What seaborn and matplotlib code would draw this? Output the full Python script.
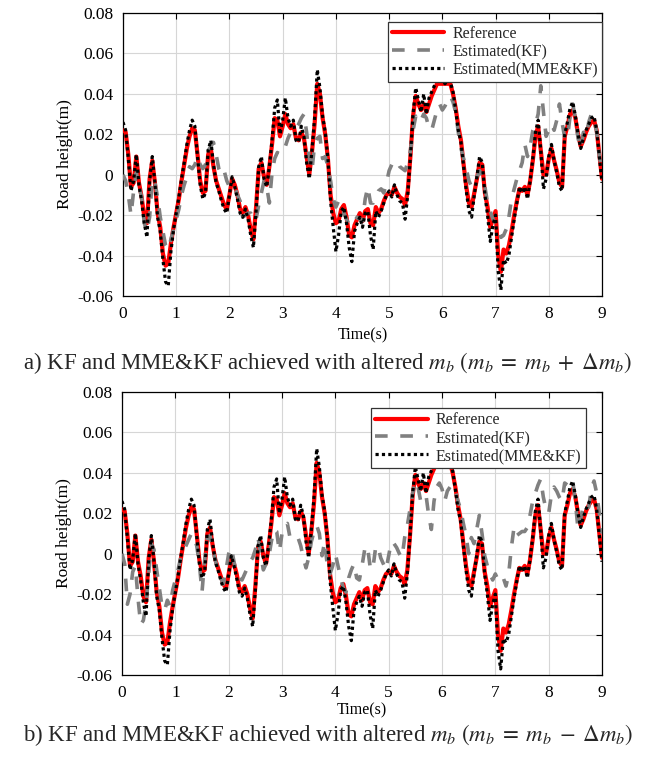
import numpy as np
import pandas as pd
import matplotlib
matplotlib.use("Agg")
import matplotlib.pyplot as plt
import seaborn as sns

time_s = np.round(np.arange(181) * 0.05, 2)

reference = [
    0.022, 0.021, 0.010, -0.006, -0.004, 0.009, -0.004, -0.011, -0.021, -0.024,
    -0.002, 0.007, -0.004, -0.019, -0.026, -0.039, -0.045, -0.044, -0.034, -0.026,
    -0.019, -0.012, -0.003, 0.005, 0.013, 0.019, 0.023, 0.022, 0.010, -0.003,
    -0.009, -0.008, 0.010, 0.013, 0.004, -0.003, -0.007, -0.011, -0.015, -0.017,
    -0.010, -0.002, -0.005, -0.010, -0.017, -0.019, -0.016, -0.020, -0.027, -0.032,
    -0.016, 0.003, 0.006, -0.001, -0.005, 0.004, 0.015, 0.028, 0.027, 0.019,
    0.024, 0.030, 0.025, 0.023, 0.025, 0.018, 0.017, 0.021, 0.018, 0.009,
    0.000, 0.011, 0.025, 0.045, 0.040, 0.028, 0.020, 0.008, -0.010, -0.019,
    -0.024, -0.023, -0.017, -0.015, -0.021, -0.030, -0.031, -0.025, -0.022, -0.019,
    -0.023, -0.018, -0.017, -0.024, -0.025, -0.016, -0.019, -0.017, -0.013, -0.010,
    -0.009, -0.010, -0.006, -0.009, -0.011, -0.012, -0.015, -0.008, 0.009, 0.029,
    0.039, 0.035, 0.032, 0.035, 0.031, 0.035, 0.039, 0.042, 0.045, 0.045,
    0.045, 0.045, 0.045, 0.045, 0.040, 0.033, 0.024, 0.017, 0.005, -0.006,
    -0.014, -0.016, -0.009, -0.002, 0.006, 0.005, -0.009, -0.016, -0.026, -0.022,
    -0.018, -0.040, -0.048, -0.037, -0.039, -0.035, -0.028, -0.020, -0.013, -0.007,
    -0.008, -0.006, -0.010, -0.003, 0.007, 0.019, 0.024, 0.012, 0.000, 0.000,
    0.008, 0.013, 0.007, 0.002, -0.004, -0.006, 0.019, 0.024, 0.030, 0.032,
    0.028, 0.020, 0.014, 0.017, 0.021, 0.024, 0.026, 0.027, 0.022, 0.010,
    -0.002,
]

kf_plus = [
    0.000, -0.003, -0.010, -0.020, -0.008, 0.001, -0.006, -0.011, -0.024, -0.028,
    -0.021, -0.002, -0.004, -0.011, -0.021, -0.028, -0.035, -0.037, -0.032, -0.027,
    -0.022, -0.017, -0.010, -0.005, -0.001, 0.004, 0.003, 0.005, 0.009, 0.005,
    0.003, 0.005, 0.012, 0.014, 0.016, 0.010, 0.003, 0.000, 0.002, -0.003,
    -0.006, -0.005, -0.006, -0.010, -0.013, -0.021, -0.020, -0.019, -0.019, -0.023,
    -0.022, -0.015, -0.009, -0.003, -0.006, -0.014, 0.001, 0.008, 0.011, 0.010,
    0.011, 0.014, 0.018, 0.021, 0.021, 0.023, 0.025, 0.028, 0.030, 0.021,
    0.008, 0.002, 0.015, 0.018, 0.019, 0.008, 0.009, 0.004, -0.003, -0.012,
    -0.016, -0.013, -0.014, -0.019, -0.022, -0.025, -0.025, -0.023, -0.021, -0.022,
    -0.023, -0.012, -0.006, -0.014, -0.014, -0.011, -0.008, -0.007, -0.009, -0.004,
    0.002, 0.005, 0.006, 0.007, 0.004, 0.003, 0.002, 0.006, 0.012, 0.022,
    0.029, 0.026, 0.027, 0.030, 0.028, 0.023, 0.022, 0.027, 0.032, 0.035,
    0.032, 0.034, 0.037, 0.039, 0.036, 0.031, 0.021, 0.013, 0.008, 0.003,
    -0.003, -0.006, -0.003, -0.001, 0.002, -0.001, -0.006, -0.014, -0.018, -0.022,
    -0.024, -0.026, -0.031, -0.030, -0.027, -0.021, -0.012, -0.007, -0.002, 0.002,
    0.006, 0.015, 0.009, 0.014, 0.022, 0.025, 0.030, 0.044, 0.031, 0.019,
    0.022, 0.025, 0.022, 0.027, 0.035, 0.026, 0.018, 0.018, 0.029, 0.035,
    0.028, 0.018, 0.013, 0.021, 0.019, 0.026, 0.030, 0.028, 0.021, 0.009,
    0.002,
]

kf_minus = [
    0.000, -0.005, -0.025, -0.020, -0.009, -0.006, -0.022, -0.035, -0.033, -0.025,
    -0.010, 0.005, 0.002, -0.008, -0.017, -0.026, -0.028, -0.023, -0.026, -0.018,
    -0.013, -0.008, -0.002, 0.001, 0.004, 0.007, 0.010, 0.008, 0.004, -0.005,
    -0.019, -0.003, 0.008, 0.009, 0.002, -0.003, -0.009, -0.012, -0.015, -0.008,
    0.000, 0.003, -0.004, -0.010, -0.012, -0.013, -0.010, -0.007, -0.004, -0.002,
    0.002, 0.008, 0.000, -0.008, -0.005, -0.002, 0.006, 0.012, 0.011, 0.001,
    0.010, 0.014, 0.015, 0.008, 0.007, 0.007, 0.008, 0.004, -0.002, -0.007,
    -0.002, 0.006, 0.011, 0.014, 0.010, -0.001, 0.006, -0.006, -0.010, -0.006,
    0.000, -0.006, -0.012, -0.017, -0.019, -0.012, -0.008, -0.005, -0.012, -0.013,
    -0.006, 0.002, 0.004, -0.006, -0.008, 0.002, 0.004, -0.002, -0.005, -0.008,
    -0.001, 0.006, 0.005, 0.003, 0.000, -0.002, 0.008, 0.014, 0.022, 0.030,
    0.036, 0.033, 0.026, 0.028, 0.029, 0.019, 0.012, 0.026, 0.033, 0.035,
    0.032, 0.026, 0.031, 0.033, 0.034, 0.031, 0.026, 0.022, 0.015, 0.009,
    0.000, 0.008, 0.005, 0.012, 0.019, 0.010, -0.001, -0.006, -0.010, -0.013,
    -0.010, -0.013, -0.011, -0.012, -0.016, -0.010, 0.003, 0.013, 0.009, 0.010,
    0.011, 0.011, 0.013, 0.019, 0.026, 0.030, 0.034, 0.037, 0.028, 0.022,
    0.020, 0.029, 0.033, 0.031, 0.028, 0.026, 0.035, 0.034, 0.036, 0.036,
    0.026, 0.012, 0.017, 0.024, 0.025, 0.023, 0.032, 0.036, 0.030, 0.020,
    0.010,
]

mme_kf = [
    0.026, 0.022, 0.008, -0.008, -0.003, 0.010, -0.005, -0.013, -0.024, -0.031,
    -0.003, 0.009, -0.004, -0.021, -0.028, -0.042, -0.053, -0.055, -0.038, -0.027,
    -0.019, -0.011, -0.002, 0.006, 0.015, 0.022, 0.027, 0.024, 0.009, -0.005,
    -0.012, -0.009, 0.012, 0.017, 0.005, -0.004, -0.008, -0.013, -0.017, -0.019,
    -0.010, -0.001, -0.006, -0.012, -0.019, -0.021, -0.017, -0.022, -0.030, -0.036,
    -0.018, 0.004, 0.009, -0.002, -0.006, 0.004, 0.017, 0.033, 0.037, 0.020,
    0.027, 0.038, 0.028, 0.024, 0.027, 0.017, 0.016, 0.024, 0.019, 0.006,
    -0.002, 0.012, 0.028, 0.052, 0.043, 0.029, 0.021, 0.008, -0.013, -0.026,
    -0.038, -0.030, -0.018, -0.016, -0.024, -0.036, -0.043, -0.028, -0.024, -0.021,
    -0.026, -0.019, -0.018, -0.030, -0.037, -0.018, -0.021, -0.018, -0.014, -0.010,
    -0.008, -0.011, -0.005, -0.010, -0.013, -0.014, -0.022, -0.010, 0.009, 0.030,
    0.043, 0.037, 0.031, 0.040, 0.030, 0.038, 0.041, 0.044, 0.047, 0.046,
    0.047, 0.045, 0.047, 0.046, 0.041, 0.032, 0.022, 0.016, 0.004, -0.008,
    -0.018, -0.021, -0.010, -0.001, 0.009, 0.006, -0.010, -0.020, -0.033, -0.025,
    -0.020, -0.048, -0.057, -0.042, -0.044, -0.040, -0.031, -0.022, -0.014, -0.006,
    -0.009, -0.006, -0.012, -0.003, 0.008, 0.021, 0.027, 0.012, -0.007, -0.002,
    0.009, 0.015, 0.007, 0.001, -0.006, -0.008, 0.020, 0.026, 0.033, 0.036,
    0.029, 0.020, 0.013, 0.018, 0.022, 0.025, 0.028, 0.029, 0.022, 0.009,
    -0.004,
]

series_names = ["Reference", "Estimated(KF)", "Estimated(MME&KF)"]
x_ticks = [0, 1, 2, 3, 4, 5, 6, 7, 8, 9]
y_ticks = [-0.06, -0.04, -0.02, 0.0, 0.02, 0.04, 0.06, 0.08]
y_tick_labels = ["-0.06", "-0.04", "-0.02", "0", "0.02", "0.04", "0.06", "0.08"]
captions = [
    r"a) KF and MME&KF achieved with altered $m_b\ (m_b\; =\; m_b\; +\; \Delta m_b)$",
    r"b) KF and MME&KF achieved with altered $m_b\ (m_b\; =\; m_b\; -\; \Delta m_b)$",
]

# ---------------- styling ----------------
sns.set_theme(style="white")
plt.rcParams["font.family"] = ["Liberation Serif", "DejaVu Serif"]
plt.rcParams["mathtext.fontset"] = "stix"

fig = plt.figure(figsize=(6.56, 7.58), dpi=100)
ax1 = fig.add_axes([0.1875, 0.6095, 0.7302, 0.3733])
ax2 = fig.add_axes([0.186, 0.1095, 0.7317, 0.3733])


def draw(ax, kf, legend_anchor, xlabel_pad):
    df = pd.DataFrame({"t": time_s, "ref": reference, "kf": kf, "mme": mme_kf})
    sns.lineplot(data=df, x="t", y="ref", ax=ax, color="#ff0000", lw=3.0,
                 label=series_names[0], estimator=None, sort=False, zorder=3)
    sns.lineplot(data=df, x="t", y="kf", ax=ax, color="#808080", lw=2.6,
                 linestyle=(0, (3.5, 3.5)), label=series_names[1],
                 estimator=None, sort=False, zorder=4)
    sns.lineplot(data=df, x="t", y="mme", ax=ax, color="black", lw=2.3,
                 linestyle=(0, (1, 1)), label=series_names[2],
                 estimator=None, sort=False, zorder=5)
    ax.set_xlim(0, 9)
    ax.set_ylim(-0.06, 0.08)
    ax.set_xticks(x_ticks)
    ax.set_xticklabels([str(v) for v in x_ticks])
    ax.set_yticks(y_ticks)
    ax.set_yticklabels(y_tick_labels)
    ax.tick_params(direction="in", top=True, right=True, labelsize=12.5,
                   length=4, width=0.8, pad=7, colors="black")
    ax.grid(True, color="#d6d6d6", lw=0.8)
    ax.set_axisbelow(True)
    for sp in ax.spines.values():
        sp.set_color("black")
        sp.set_linewidth(0.9)
    ax.set_xlabel("Time(s)", fontsize=11.5, labelpad=xlabel_pad, color="black")
    ax.set_ylabel("Road height(m)", fontsize=12.5, labelpad=3, color="black")
    leg = ax.legend(loc="upper right", bbox_to_anchor=legend_anchor,
                    borderaxespad=0, fontsize=11.5, frameon=True, fancybox=False,
                    edgecolor="#333333", framealpha=1, handlelength=3.3,
                    labelspacing=0.12, borderpad=0.25, handletextpad=0.5)
    leg.get_frame().set_linewidth(0.9)


draw(ax1, kf_plus, (1.0, 0.969), 4)
draw(ax2, kf_minus, (0.966, 0.943), 1)

fig.text(0.5, 0.513, captions[0], ha="center", va="baseline", fontsize=16.5)
fig.text(0.5, 0.022, captions[1], ha="center", va="baseline", fontsize=16.5)

fig.savefig("out.png", dpi=100)
